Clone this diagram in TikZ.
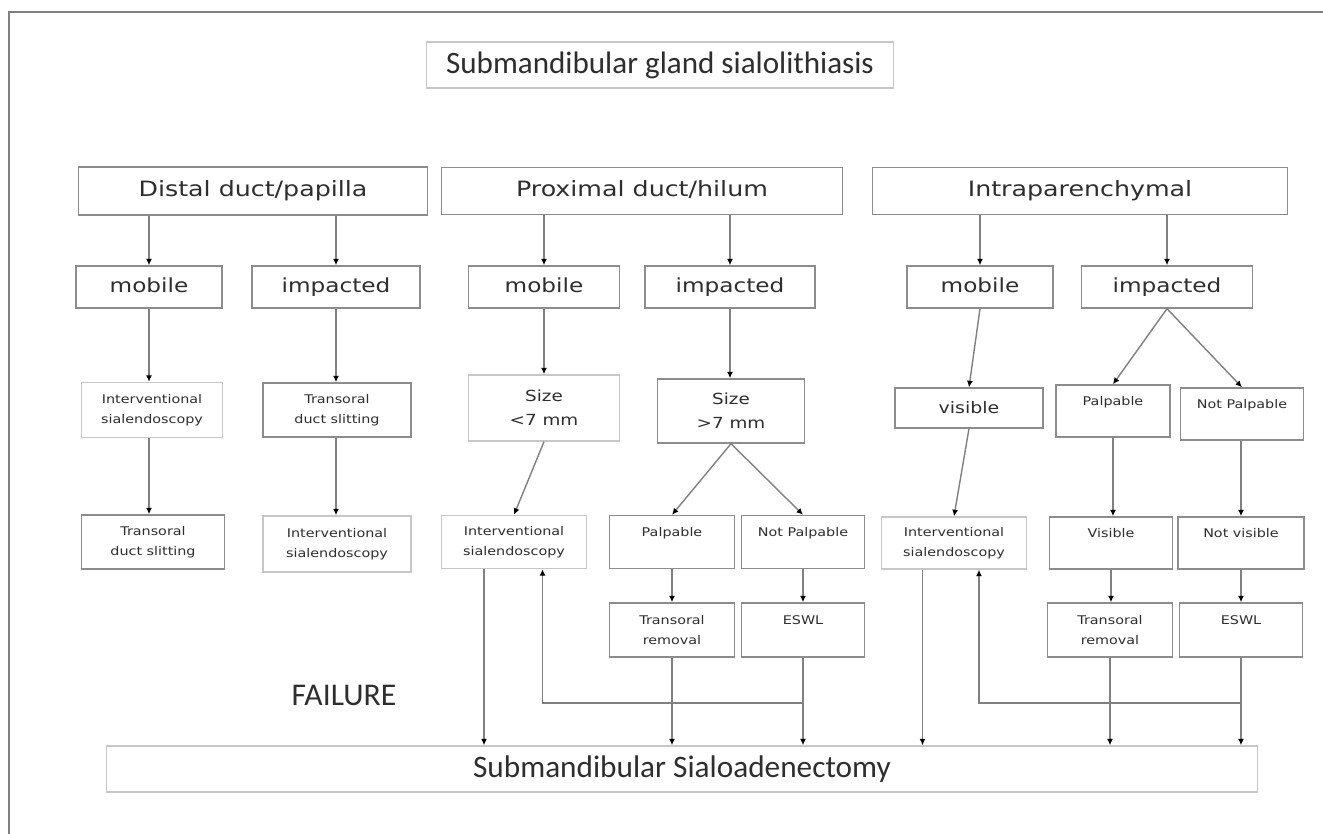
\documentclass[tikz,border=0pt]{standalone}
\usepackage{fontspec}
\setmainfont{Carlito}
\newfontfamily\boxfont[FakeStretch=1.2]{DejaVu Sans}
\usetikzlibrary{arrows.meta}
\definecolor{edgegray}{gray}{0.55}
\definecolor{palegray}{gray}{0.78}
\definecolor{wiregray}{gray}{0.5}
\definecolor{inkgray}{gray}{0.18}

\begin{document}
\begin{tikzpicture}[x=0.02cm, y=-0.02cm,
  sz/.style 2 args={minimum width=#1*0.02cm, minimum height=#2*0.02cm},
  box/.style={rectangle, draw=edgegray, line width=0.8pt, fill=white, align=center, inner sep=1pt, text=inkgray},
  palebox/.style={box, draw=palegray},
  head/.style={box, font=\boxfont\fontsize{12}{14}\selectfont, text height=1.6ex, text depth=0.4ex},
  kind/.style={box, font=\boxfont\fontsize{11}{13}\selectfont, text height=1.6ex, text depth=0.4ex},
  size/.style={box, font=\boxfont\fontsize{8.7}{13.6}\selectfont},
  tiny/.style={font=\boxfont\fontsize{6.8}{11.3}\selectfont},
  arr/.style={draw=wiregray, line width=0.8pt, -{Latex[black, length=1.3mm, width=1.2mm]}}]
  \useasboundingbox (0,0) rectangle (1323,834);
  \draw[line width=0.9pt, gray] (9,834) -- (9,12) -- (1323,12);

  % top
  \node (title) [palebox, sz={467}{46}, font=\fontsize{17.7}{20}\selectfont] at (660,65) {Submandibular gland sialolithiasis};
  \node (distal) [head, sz={349}{48}] at (253,191) {Distal duct/papilla};
  \node (prox) [head, sz={401}{47}] at (642,191) {Proximal duct/hilum};
  \node (intra) [head, sz={415}{47}] at (1080,191) {Intraparenchymal};

  % mobile / impacted
  \node (dmob) [kind, sz={146}{42}] at (149,287) {mobile};
  \node (dimp) [kind, sz={168}{42}] at (336,287) {impacted};
  \node (pmob) [kind, sz={151}{42}] at (544,287) {mobile};
  \node (pimp) [kind, sz={170}{42}] at (730,287) {impacted};
  \node (imob) [kind, sz={146}{42}] at (980,287) {mobile};
  \node (iimp) [kind, sz={171}{42}] at (1167,287) {impacted};

  % third row
  \node (dint) [palebox, tiny, sz={141}{55}] at (152,410) {Interventional\\sialendoscopy};
  \node (dslit) [box, tiny, sz={148}{54}] at (337,410) {Transoral\\duct slitting};
  \node (psmall) [size, draw=palegray, sz={151}{66}] at (544,408) {Size\\<7 mm};
  \node (pbig) [size, sz={147}{64}] at (731,411) {Size\\>7 mm};
  \node (ivis) [box, font=\boxfont\fontsize{9}{11}\selectfont, sz={148}{40}] at (969,408) {visible};
  \node (ipalp) [box, tiny, sz={114}{52}] at (1113,411) {Palpable\\~};
  \node (inpalp) [box, tiny, sz={123}{52}] at (1242,414) {Not Palpable\\~};

  % fourth row
  \node (dslit2) [box, tiny, sz={143}{54}] at (153,542) {Transoral\\duct slitting};
  \node (dint2) [palebox, tiny, sz={148}{56}] at (337,544) {Interventional\\sialendoscopy};
  \node (pint) [palebox, tiny, sz={145}{53}] at (514,542) {Interventional\\sialendoscopy};
  \node (ppalp) [box, tiny, sz={125}{53}] at (672,542) {Palpable\\~};
  \node (pnpalp) [box, tiny, sz={123}{53}] at (803,542) {Not Palpable\\~};
  \node (iint) [palebox, tiny, sz={145}{52}] at (954,543) {Interventional\\sialendoscopy};
  \node (ivis2) [box, tiny, sz={123}{52}] at (1111,543) {Visible\\~};
  \node (invis) [box, tiny, sz={126}{52}] at (1241,543) {Not visible\\~};

  % fifth row
  \node (ptrans) [box, tiny, sz={125}{54}] at (672,630) {Transoral\\removal};
  \node (peswl) [box, tiny, sz={123}{54}] at (803,630) {ESWL\\~};
  \node (itrans) [box, tiny, sz={125}{54}] at (1110,630) {Transoral\\removal};
  \node (ieswl) [box, tiny, sz={123}{54}] at (1241,630) {ESWL\\~};

  \node (fail) [text=inkgray, font=\fontsize{18}{20}\selectfont] at (344,695) {FAILURE};
  \node (sial) [palebox, sz={1151}{46}, font=\fontsize{17.8}{20}\selectfont] at (682,769) {Submandibular Sialoadenectomy};

  \coordinate (pback) at (803,703);
  \coordinate (iback) at (1241,703);

  % distal
  \draw[arr] (dmob |- distal.south) -- (dmob.north);
  \draw[arr] (dimp |- distal.south) -- (dimp.north);
  \draw[arr] (dmob.south) -- (dmob |- dint.north);
  \draw[arr] (dimp.south) -- (dimp |- dslit.north);
  \draw[arr] (dint.south -| dmob) -- (dmob |- dslit2.north);
  \draw[arr] (dslit.south -| dimp) -- (dimp |- dint2.north);

  % proximal
  \draw[arr] (pmob |- prox.south) -- (pmob.north);
  \draw[arr] (pimp |- prox.south) -- (pimp.north);
  \draw[arr] (pmob.south) -- (psmall.north);
  \draw[arr] (pimp.south) -- (pimp |- pbig.north);
  \draw[arr] (psmall.south) -- (pint.north);
  \draw[arr] (pbig.south) -- (ppalp.north);
  \draw[arr] (pbig.south) -- (pnpalp.north);
  \draw[arr] (ppalp.south) -- (ptrans.north);
  \draw[arr] (pnpalp.south) -- (peswl.north);
  \draw[arr] ([xshift=-0.6cm]pint.south) -- ([xshift=-0.6cm]pint.south |- sial.north);
  \draw[arr] (ptrans.south) -- (ptrans |- sial.north);
  \draw[arr] (peswl.south) -- (peswl |- sial.north);
  \draw[arr] (pback) -| ([xshift=0.57cm]pint.south);

  % intraparenchymal
  \draw[arr] (imob |- intra.south) -- (imob.north);
  \draw[arr] (iimp |- intra.south) -- (iimp.north);
  \draw[arr] (imob.south) -- (ivis.north);
  \draw[arr] (ivis.south) -- (iint.north);
  \draw[arr] (iimp.south) -- (ipalp.north);
  \draw[arr] (iimp.south) -- (inpalp.north);
  \draw[arr] (ipalp.south) -- (ipalp |- ivis2.north);
  \draw[arr] (inpalp.south -| invis) -- (invis.north);
  \draw[arr] (ivis2.south) -- (ivis2 |- itrans.north);
  \draw[arr] (invis.south) -- (ieswl.north);
  \draw[arr] ([xshift=-0.63cm]iint.south) -- ([xshift=-0.63cm]iint.south |- sial.north);
  \draw[arr] (itrans.south) -- (itrans |- sial.north);
  \draw[arr] (ieswl.south) -- (ieswl |- sial.north);
  \draw[arr] (iback) -| ([xshift=0.5cm]iint.south);
\end{tikzpicture}
\end{document}
